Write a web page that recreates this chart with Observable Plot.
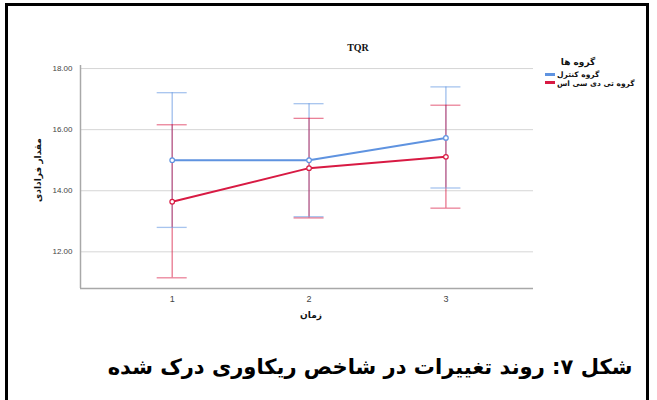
<!DOCTYPE html>
<html><head><meta charset="utf-8">
<script src="https://cdn.jsdelivr.net/npm/d3@7"></script>
<script src="https://cdn.jsdelivr.net/npm/@observablehq/plot@0.6"></script>
<style>
html,body{margin:0;padding:0;background:#fff;}
#wrap{position:relative;width:657px;height:400px;overflow:hidden;}
#frame{position:absolute;left:5px;top:3px;width:644px;height:430px;border:3px solid #000;box-sizing:border-box;}
#chart{position:absolute;left:0;top:0;}
.lab{position:absolute;white-space:nowrap;font-family:"DejaVu Sans",sans-serif;color:#111;}
#title{left:358px;top:47px;transform:translate(-50%,-50%);font-family:"Liberation Serif",serif;font-weight:bold;font-size:10px;}
#ylab{left:38px;top:170px;transform:translate(-50%,-50%) rotate(-90deg);font-weight:bold;font-size:9px;direction:rtl;}
#xlab{left:311px;top:315px;transform:translate(-50%,-50%);font-weight:bold;font-size:9px;direction:rtl;}
#legtitle{left:578px;top:62px;transform:translate(-50%,-50%);font-weight:bold;font-size:9px;direction:rtl;}
.sw{position:absolute;left:545px;width:10px;height:3px;}
.lt{left:557px;font-size:7.5px;transform:translateY(-50%);font-weight:bold;}
#caption{left:370px;top:366px;transform:translate(-50%,-50%);font-weight:bold;font-size:24px;direction:rtl;color:#000;}
</style></head>
<body><div id="wrap"><div id="chart"></div><div id="frame"></div></div>
<script>
// ---- data ----
const times = [1, 2, 3];
const groups = ["گروه کنترل", "گروه تی دی سی اس"];
const controlMean = [15.00, 15.00, 15.73];
const controlLow  = [12.80, 13.15, 14.09];
const controlHigh = [17.21, 16.85, 17.40];
const tdcsMean = [13.64, 14.74, 15.11];
const tdcsLow  = [11.15, 13.11, 13.43];
const tdcsHigh = [16.16, 16.37, 16.80];
const yTicks = [12, 14, 16, 18];
const titleText = "TQR";
const xLabel = "زمان";
const yLabel = "مقدار فرادادی";
const legendTitle = "گروه ها";
const captionText = "شکل ۷: روند تغییرات در شاخص ریکاوری درک شده";

const colors = ["#5f93e0", "#d81a43"];
const xDomain = [0.33, 3.64];
const yDomain = [10.8, 18.1];

const rows = [];
times.forEach((t, i) => {
  rows.push({t, g: groups[0], m: controlMean[i], lo: controlLow[i], hi: controlHigh[i]});
});
times.forEach((t, i) => {
  rows.push({t, g: groups[1], m: tdcsMean[i], lo: tdcsLow[i], hi: tdcsHigh[i]});
});

const plot = Plot.plot({
  width: 657, height: 340,
  marginLeft: 80, marginRight: 124, marginTop: 65, marginBottom: 52,
  style: {fontFamily: "'Liberation Sans', Arial, sans-serif", fontSize: "8px", color: "#444", background: "transparent"},
  x: {domain: xDomain, label: null},
  y: {domain: yDomain, label: null},
  color: {domain: groups, range: colors},
  marks: [
    Plot.gridY(yTicks, {stroke: "#d6d6d6", strokeOpacity: 1, strokeWidth: 1}),
    Plot.ruleX([xDomain[0]], {stroke: "#a8a8a8", strokeWidth: 1.5}),
    Plot.ruleY([yDomain[0]], {stroke: "#a8a8a8", strokeWidth: 1.5}),
    Plot.axisY(yTicks, {tickSize: 0, tickPadding: 8, tickFormat: d => d.toFixed(2), fontSize: 8, fill: "#444"}),
    Plot.axisX(times, {tickSize: 0, tickPadding: 7, tickFormat: d => String(d), fontSize: 9, fill: "#444"}),
    Plot.ruleX(rows, {x: "t", y1: "lo", y2: "hi", stroke: "g", strokeOpacity: 0.6, strokeWidth: 1.3}),
    Plot.ruleY(rows, {y: "hi", x1: "t", x2: "t", insetLeft: -15, insetRight: -15, stroke: "g", strokeOpacity: 0.55, strokeWidth: 1.3}),
    Plot.ruleY(rows, {y: "lo", x1: "t", x2: "t", insetLeft: -15, insetRight: -15, stroke: "g", strokeOpacity: 0.55, strokeWidth: 1.3}),
    Plot.line(rows, {x: "t", y: "m", z: "g", stroke: "g", strokeWidth: 2}),
    Plot.dot(rows, {x: "t", y: "m", r: 2.3, stroke: "g", fill: "white", strokeWidth: 1.2})
  ]
});
document.getElementById("chart").appendChild(plot);

const wrap = document.getElementById("wrap");
function addLabel(id, text, cls) {
  const d = document.createElement("div");
  if (id) d.id = id;
  d.className = "lab" + (cls ? " " + cls : "");
  d.textContent = text;
  wrap.appendChild(d);
  return d;
}
addLabel("title", titleText);
addLabel("ylab", yLabel);
addLabel("xlab", xLabel);
addLabel("legtitle", legendTitle);
const swY = [74, 82.5];
groups.forEach((g, i) => {
  const s = document.createElement("div");
  s.className = "sw";
  s.style.top = (swY[i] - 1.5) + "px";
  s.style.background = colors[i];
  wrap.appendChild(s);
  const t = addLabel(null, g, "lt");
  t.style.top = swY[i] + "px";
});
const cap = addLabel("caption", captionText);
// fit caption to the reference's text width (~525px)
const w0 = cap.getBoundingClientRect().width;
cap.style.fontSize = (24 * 525 / w0).toFixed(2) + "px";
</script>
</body></html>
